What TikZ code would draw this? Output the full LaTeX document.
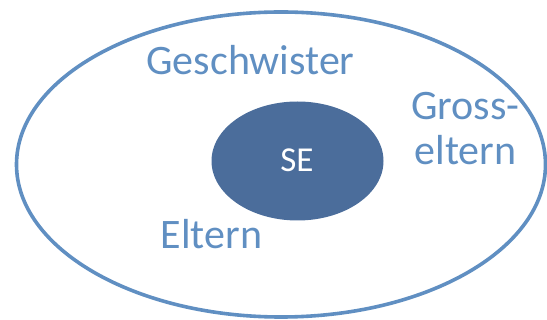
\documentclass[tikz,border=0pt]{standalone}
\usepackage{fontspec}
\setmainfont{Carlito}
\definecolor{ringblue}{RGB}{96,143,194}
\definecolor{coreblue}{RGB}{75,109,155}
\tikzset{
  lbl/.style={text=ringblue, font=\fontsize{42}{45}\selectfont, inner sep=0pt, anchor=base, align=center},
}
\begin{document}
\begin{tikzpicture}[x=1pt,y=-1pt]
\useasboundingbox (0,0) rectangle (547,320);
\draw[ringblue, line width=3.6pt] (281,164.5) ellipse [x radius=264.5, y radius=152.5];
\fill[coreblue] (297.5,161) ellipse [x radius=86, y radius=59.5];
\node[text=white, font=\fontsize{35}{40}\selectfont, inner sep=0pt, anchor=base] (se) at (297,172) {SE};
\node[lbl] (geschwister) at (250.5,75) {Geschwister};
\node[lbl] (eltern) at (211.5,249) {Eltern};
\node[lbl] (grosseltern) at (465.5,165) {Gross-\\eltern};
\end{tikzpicture}
\end{document}
